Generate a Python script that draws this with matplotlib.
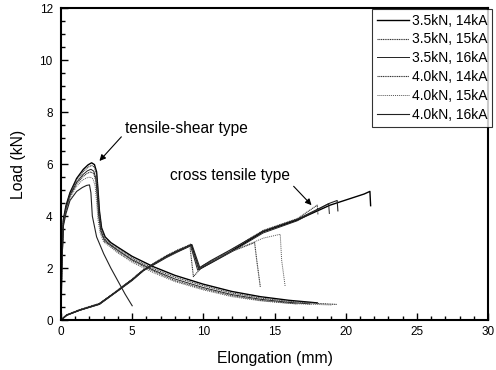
import matplotlib.pyplot as plt
from matplotlib.ticker import MultipleLocator

plt.rcParams['font.family'] = ['Liberation Sans', 'DejaVu Sans']

labels = ["3.5kN, 14kA", "3.5kN, 15kA", "3.5kN, 16kA",
          "4.0kN, 14kA", "4.0kN, 15kA", "4.0kN, 16kA"]

# tensile-shear type curves (elongation mm, load kN)
ts_x = [
    [0, 0.05, 0.16, 0.35, 0.63, 1.1, 1.57, 1.9, 2.15, 2.35, 2.5, 2.6, 2.7, 2.85, 3.1, 3.5, 4, 5, 6.5, 8, 10, 12, 14, 16, 18],
    [0, 0.05, 0.16, 0.35, 0.63, 1.1, 1.57, 1.9, 2.15, 2.35, 2.5, 2.6, 2.7, 2.85, 3.1, 3.5, 4, 5, 6.5, 8, 10, 12, 14, 16, 18, 19.4],
    [0, 0.05, 0.16, 0.35, 0.63, 1.1, 1.55, 1.85, 2.1, 2.3, 2.45, 2.55, 2.65, 2.8, 3.05, 3.5, 4, 5, 6.5, 8, 10, 12, 14, 16, 17.5],
    [0, 0.05, 0.16, 0.35, 0.63, 1.1, 1.55, 1.85, 2.1, 2.3, 2.45, 2.55, 2.65, 2.8, 3.05, 3.5, 4, 5, 6.5, 8, 10, 12, 14, 16.6],
    [0, 0.05, 0.16, 0.35, 0.63, 1.1, 1.5, 1.8, 2.05, 2.25, 2.4, 2.5, 2.6, 2.75, 3.0, 3.5, 4, 5, 6.5, 8, 10, 12, 14, 16, 19.0],
    [0, 0.05, 0.16, 0.35, 0.63, 1.1, 1.5, 1.8, 2.0, 2.1, 2.2, 2.5, 3.0, 3.5, 4.0, 4.5, 5.0],
]
ts_y = [
    [0, 2.0, 3.85, 4.4, 4.9, 5.45, 5.8, 5.97, 6.05, 5.98, 5.7, 5.0, 4.2, 3.55, 3.2, 2.98, 2.8, 2.45, 2.05, 1.72, 1.38, 1.1, 0.9, 0.76, 0.66],
    [0, 2.0, 3.8, 4.35, 4.85, 5.4, 5.72, 5.88, 5.95, 5.88, 5.6, 4.9, 4.1, 3.5, 3.12, 2.92, 2.74, 2.38, 1.98, 1.65, 1.32, 1.04, 0.85, 0.72, 0.64, 0.6],
    [0, 2.0, 3.75, 4.3, 4.8, 5.3, 5.6, 5.74, 5.8, 5.73, 5.45, 4.8, 4.05, 3.45, 3.08, 2.88, 2.68, 2.32, 1.92, 1.58, 1.25, 0.98, 0.8, 0.68, 0.62],
    [0, 1.9, 3.7, 4.25, 4.75, 5.25, 5.52, 5.65, 5.7, 5.63, 5.35, 4.7, 3.95, 3.4, 3.04, 2.84, 2.63, 2.28, 1.88, 1.52, 1.2, 0.94, 0.76, 0.62],
    [0, 1.9, 3.65, 4.2, 4.7, 5.15, 5.38, 5.47, 5.5, 5.43, 5.15, 4.55, 3.85, 3.35, 3.0, 2.8, 2.58, 2.22, 1.82, 1.48, 1.16, 0.9, 0.74, 0.64, 0.58],
    [0, 1.9, 3.6, 4.1, 4.6, 4.95, 5.1, 5.18, 5.2, 4.9, 4.0, 3.2, 2.55, 2.0, 1.5, 1.0, 0.55],
]

# cross tensile type curves
ct_x = [
    [0, 0.4, 1.3, 2.7, 3.9, 5.0, 5.8, 7.4, 8.2, 8.9, 9.15, 9.7, 10.5, 11.9, 14.2, 16.6, 18.9, 21.3, 21.7, 21.75],
    [0, 0.4, 1.3, 2.7, 3.9, 5.0, 5.8, 7.4, 8.2, 8.9, 9.1, 9.65, 10.5, 11.9, 14.2, 16.6, 18.0, 18.05],
    [0, 0.4, 1.3, 2.7, 3.9, 5.0, 5.8, 7.4, 8.2, 8.9, 9.1, 9.6, 10.5, 11.9, 14.2, 16.6, 18.8, 18.85],
    [0, 0.4, 1.3, 2.7, 3.9, 5.0, 5.8, 7.4, 8.2, 8.9, 9.05, 9.3, 10.0, 11.9, 13.6, 13.75, 14.0],
    [0, 0.4, 1.3, 2.7, 3.9, 5.0, 5.8, 7.4, 8.2, 8.9, 9.1, 9.7, 10.5, 11.9, 14.2, 15.4, 15.5, 15.75],
    [0, 0.4, 1.3, 2.7, 3.9, 5.0, 5.8, 7.4, 8.2, 8.9, 9.2, 9.75, 10.5, 11.9, 14.2, 16.6, 18.9, 19.4, 19.45],
]
ct_y = [
    [0, 0.19, 0.38, 0.62, 1.1, 1.55, 1.92, 2.44, 2.65, 2.82, 2.9, 1.95, 2.2, 2.63, 3.4, 3.85, 4.42, 4.85, 4.95, 4.4],
    [0, 0.2, 0.4, 0.64, 1.12, 1.58, 1.95, 2.48, 2.7, 2.86, 2.92, 2.0, 2.25, 2.68, 3.45, 3.9, 4.42, 4.05],
    [0, 0.18, 0.37, 0.6, 1.08, 1.52, 1.9, 2.4, 2.62, 2.8, 2.86, 1.92, 2.18, 2.6, 3.35, 3.82, 4.48, 4.1],
    [0, 0.2, 0.39, 0.63, 1.1, 1.56, 1.93, 2.46, 2.68, 2.84, 2.88, 1.67, 2.1, 2.62, 2.98, 2.3, 1.28],
    [0, 0.19, 0.38, 0.61, 1.09, 1.54, 1.91, 2.42, 2.64, 2.82, 2.87, 1.98, 2.22, 2.62, 3.15, 3.3, 2.3, 1.28],
    [0, 0.19, 0.38, 0.62, 1.1, 1.55, 1.92, 2.45, 2.66, 2.84, 2.9, 2.02, 2.28, 2.7, 3.42, 3.88, 4.5, 4.6, 4.2],
]

styles = ['-', (0, (1, 0.6)), '-', (0, (1, 0.6)), (0, (1, 1)), '-']
widths = [1.0, 0.8, 0.7, 0.8, 0.7, 0.8]
colors = ['black', '#333333', '#222222', '#333333', '#555555', '#222222']

fig = plt.figure(figsize=(4.96, 3.70), dpi=100)
ax = fig.add_axes([0.123, 0.135, 0.861, 0.843])

for i in range(6):
    ax.plot(ts_x[i], ts_y[i], linestyle=styles[i], lw=widths[i], color=colors[i], label=labels[i])
    ax.plot(ct_x[i], ct_y[i], linestyle=styles[i], lw=widths[i], color=colors[i])

ax.set_xlim(0, 30)
ax.set_ylim(0, 12)
ax.xaxis.set_major_locator(MultipleLocator(5))
ax.xaxis.set_minor_locator(MultipleLocator(1))
ax.yaxis.set_major_locator(MultipleLocator(2))
ax.yaxis.set_minor_locator(MultipleLocator(0.5))
ax.tick_params(which='both', direction='in', top=False, right=False, labelsize=8.5)
ax.tick_params(which='major', length=5, width=1)
ax.tick_params(which='minor', length=3, width=1)
ax.tick_params(axis='x', pad=4.5)
ax.tick_params(axis='y', pad=6)
for s in ax.spines.values():
    s.set_linewidth(1.5)

ax.set_xlabel("Elongation (mm)", fontsize=11.3, labelpad=9)
ax.set_ylabel("Load (kN)", fontsize=11.3, labelpad=10)

ax.annotate("tensile-shear type", xy=(2.7, 6.12), xytext=(4.5, 7.38),
            fontsize=11.2, va='center', ha='left',
            arrowprops=dict(arrowstyle='-|>', color='black', lw=0.8, shrinkA=1, shrinkB=0,
                            mutation_scale=9, relpos=(0.0, 0.2)))
ax.annotate("cross tensile type", xy=(17.6, 4.42), xytext=(7.66, 5.58),
            fontsize=11.2, va='center', ha='left',
            arrowprops=dict(arrowstyle='-|>', color='black', lw=0.8, shrinkA=1, shrinkB=0,
                            mutation_scale=9, relpos=(1.0, 0.0)))

leg = ax.legend(loc='upper right', bbox_to_anchor=(1.01, 0.998), fontsize=10,
                frameon=True, fancybox=False, edgecolor='black',
                handlelength=2.3, borderaxespad=0.0, labelspacing=0.35,
                handletextpad=0.25, borderpad=0.35)
leg.get_frame().set_linewidth(0.8)

fig.savefig("out.png", dpi=100)
